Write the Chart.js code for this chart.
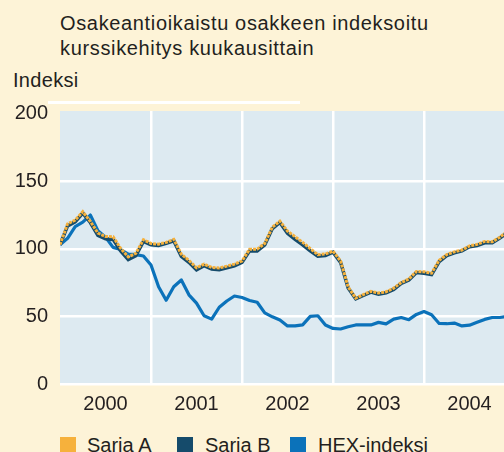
<!DOCTYPE html>
<html>
<head>
<meta charset="utf-8">
<script src="https://cdn.jsdelivr.net/npm/chart.js@4.4.1/dist/chart.umd.min.js"></script>
<style>
  html, body { margin: 0; padding: 0; background: #FDF3D7; width: 504px; height: 452px; overflow: hidden; }
  body { position: relative; font-family: "Liberation Sans", Arial, sans-serif; color: #231F20; }
  #title { position: absolute; left: 60px; top: 11px; font-size: 20px; line-height: 25px; white-space: nowrap; letter-spacing: 0.65px; }
  #ylab { position: absolute; left: 13px; top: 68px; font-size: 20px; line-height: 25px; letter-spacing: 0.3px; }
  #rule { position: absolute; left: 48px; top: 101px; width: 252px; height: 3px; background: #ffffff; }
  #chart { position: absolute; left: 0; top: 0; }
  .leg { position: absolute; top: 433px; font-size: 20px; line-height: 25px; white-space: nowrap; }
  .sw { position: absolute; top: 437px; width: 16px; height: 16px; }
</style>
</head>
<body>
<div id="title">Osakeantioikaistu osakkeen indeksoitu<br>kurssikehitys kuukausittain</div>
<div id="ylab">Indeksi</div>
<div id="rule"></div>
<canvas id="chart" width="504" height="420"></canvas>
<div class="sw" style="left:60px;background:#F6B13C"></div><div class="leg" style="left:87px">Sarja A</div>
<div class="sw" style="left:177px;background:#154B6B"></div><div class="leg" style="left:205px">Sarja B</div>
<div class="sw" style="left:290px;background:#0B72BA"></div><div class="leg" style="left:318px">HEX-indeksi</div>
<script>
// Year categories (x axis), monthly data Jan 2000 .. Dec 2004
const years = ['2000', '2001', '2002', '2003', '2004'];
const yTicks = [0, 50, 100, 150, 200];

const sarjaA = [
  103, 118.5, 121.3, 127.5, 120.3, 111.7, 109.2, 109, 100.3, 94, 96.7, 106.7,
  104, 103.5, 104.8, 107, 96, 91.5, 86, 88.7, 86.3, 85.9, 87.2, 88.7,
  91, 99.7, 99.8, 104, 116, 120.5, 113.1, 109, 104.8, 100.2, 95.7, 96.2,
  98.3, 91, 71.8, 63.5, 66.2, 68.6, 67.3, 68.2, 70.9, 75.1, 77.7, 83.3,
  83, 82, 91.5, 95.8, 97.8, 99.1, 102.2, 103.3, 105.5, 105.2, 108.6, 113
];
const sarjaB = [
  103, 117, 120, 126.5, 119.5, 110, 107.5, 107, 98.5, 92, 95, 105.5,
  103, 102.5, 104, 106, 94.5, 90, 84.5, 87.5, 85, 84.5, 86, 87.5,
  90, 98.5, 98.5, 103, 115, 119.5, 111.5, 107, 103, 98.5, 94.5, 95,
  97.5, 90, 71, 63, 65.5, 68, 66.5, 67.5, 70, 74.5, 77, 82.5,
  82, 81, 90.5, 95, 97, 98.5, 101.5, 102.5, 104.5, 104.5, 108, 112
];
const hexIndeksi = [
  103, 107.8, 116.5, 119.8, 125, 113.5, 108.7, 101.1, 99.5, 96.1, 95.7, 94.7,
  88, 72, 62, 72, 77, 66, 59.8, 50.5, 48, 56.8, 61.4, 65.1,
  64, 61.8, 60.5, 52.6, 49.7, 47.4, 43, 43, 43.8, 50, 50.5, 43.6,
  41.1, 40.7, 42.4, 43.7, 43.7, 43.7, 45.6, 44.5, 48, 49.2, 47.6, 51.5,
  53.6, 51.2, 44.8, 44.6, 45.1, 43, 43.5, 45.6, 47.8, 49.2, 49.2, 50
];

const toXY = arr => arr.map((v, i) => ({ x: i, y: v }));

const plotBg = {
  id: 'plotBg',
  beforeDraw(chart) {
    const { ctx, chartArea: a } = chart;
    ctx.save();
    ctx.fillStyle = '#DDEAF1';
    ctx.fillRect(a.left, a.top, a.right - a.left, a.bottom - a.top);
    ctx.restore();
  }
};

new Chart(document.getElementById('chart'), {
  type: 'line',
  data: {
    datasets: [
      { label: 'Sarja A', data: toXY(sarjaA), borderColor: '#F6B13C', borderWidth: 3, borderDash: [3, 1], pointRadius: 0, tension: 0, order: 1 },
      { label: 'Sarja B', data: toXY(sarjaB), borderColor: '#154B6B', borderWidth: 3.5, pointRadius: 0, tension: 0, order: 2 },
      { label: 'HEX-indeksi', data: toXY(hexIndeksi), borderColor: '#0B72BA', borderWidth: 3.2, pointRadius: 0, tension: 0, borderJoinStyle: 'round', order: 3 }
    ]
  },
  options: {
    responsive: false,
    animation: false,
    events: [],
    layout: { padding: { top: 111, left: 0, right: 0, bottom: 0 } },
    plugins: { legend: { display: false }, tooltip: { enabled: false }, title: { display: false } },
    scales: {
      x: {
        type: 'linear',
        min: 0,
        max: 12 * 444 / 91,
        border: { display: false },
        afterBuildTicks(scale) {
          scale.ticks = [6, 12, 18, 24, 30, 36, 42, 48, 54].map(v => ({ value: v }));
        },
        afterFit(scale) { scale.height = 36; },
        grid: {
          drawTicks: false,
          lineWidth: 2.5,
          color: ctx => (ctx.tick && ctx.tick.value % 12 === 0) ? '#ffffff' : 'rgba(0,0,0,0)'
        },
        ticks: {
          autoSkip: false,
          maxRotation: 0,
          padding: 8,
          color: '#231F20',
          font: { family: '"Liberation Sans", Arial, sans-serif', size: 20 },
          callback: v => (v % 12 === 6) ? years[(v - 6) / 12] : ''
        }
      },
      y: {
        min: 0,
        max: 202,
        border: { display: false },
        afterBuildTicks(scale) {
          scale.ticks = yTicks.map(v => ({ value: v }));
        },
        afterFit(scale) { scale.width = 60; },
        grid: {
          drawTicks: false,
          lineWidth: 2.5,
          color: ctx => (ctx.tick && ctx.tick.value === 200) ? 'rgba(0,0,0,0)' : '#ffffff'
        },
        ticks: {
          padding: 12,
          color: '#231F20',
          font: { family: '"Liberation Sans", Arial, sans-serif', size: 20 }
        }
      }
    }
  },
  plugins: [plotBg]
});
</script>
</body>
</html>
